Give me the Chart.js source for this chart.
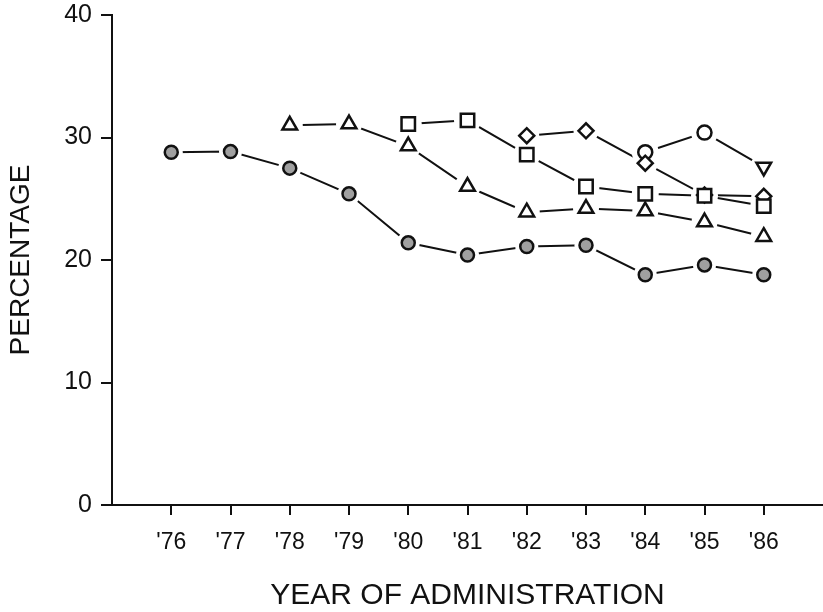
<!DOCTYPE html>
<html>
<head>
<meta charset="utf-8">
<script src="https://cdn.jsdelivr.net/npm/chart.js@4.4.0/dist/chart.umd.min.js"></script>
<style>
    body { margin: 0; background: #fff; }
    #wrap { width: 823px; height: 612px; position: relative; }
</style>
</head>
<body>
<div id="wrap"><canvas id="line-chart"></canvas></div>
<script>
// Years of administration ('76 .. '86)
const years = [76, 77, 78, 79, 80, 81, 82, 83, 84, 85, 86];

// Percentages, one array per cohort (null = not yet administered)
const filledCircle = [28.8, 28.85, 27.5, 25.4, 21.4, 20.4, 21.1, 21.2, 18.8, 19.6, 18.8];
const triangleUp = [null, null, 31.0, 31.1, 29.3, 26.0, 23.9, 24.2, 24.0, 23.1, 21.9];
const square = [null, null, null, null, 31.1, 31.4, 28.6, 26.0, 25.4, 25.25, 24.4];
const diamond = [null, null, null, null, null, null, 30.15, 30.55, 27.9, 25.3, 25.2];
const openCircle = [null, null, null, null, null, null, null, null, 28.8, 30.4, 27.6];

const yTicks = [0, 10, 20, 30, 40];

const fontFamily = "'Liberation Sans', Arial, sans-serif";
const ink = '#111';

function toPoints(values) {
    return years.map((yr, i) => ({ x: yr, y: values[i] }));
}

// last point of the open-circle cohort is drawn as an inverted triangle
const openStyles = years.map((yr, i) => i === years.length - 1 ? 'triangle' : 'circle');
const openRotation = years.map((yr, i) => i === years.length - 1 ? 180 : 0);
const openRadius = years.map((yr, i) => i === years.length - 1 ? 8.5 : 7);

// each series is drawn in three layers: the line, a white halo, then the marker
const series = [
    { values: openCircle, style: openStyles, rotation: openRotation, radius: openRadius, halo: 8.5, fill: '#fff', z: 14 },
    { values: diamond, style: 'rectRot', radius: 7.5, halo: 7.5, fill: '#fff', z: 13 },
    { values: square, style: 'rect', radius: 9.5, halo: 8.5, fill: '#fff', z: 10 },
    { values: triangleUp, style: 'triangle', radius: 8.5, halo: 8, fill: '#fff', z: 11 },
    { values: filledCircle, style: 'circle', radius: 6.5, halo: 6.5, fill: '#a0a0a0', z: 12 }
];

const datasets = [];
series.forEach(s => {
    datasets.push({
        data: toPoints(s.values),
        borderColor: ink,
        borderWidth: 2,
        pointRadius: 0,
        order: 40
    });
    datasets.push({
        data: toPoints(s.values),
        showLine: false,
        pointStyle: 'circle',
        pointRadius: s.halo + 5,
        pointBackgroundColor: '#fff',
        pointBorderWidth: 0,
        pointBorderColor: '#fff',
        order: 30
    });
    datasets.push({
        data: toPoints(s.values),
        showLine: false,
        pointStyle: s.style,
        pointRotation: s.rotation || 0,
        pointRadius: s.radius,
        pointBackgroundColor: s.fill,
        pointBorderColor: ink,
        pointBorderWidth: 2.5,
        order: s.z
    });
});

const chart = new Chart(document.getElementById('line-chart'), {
    type: 'line',
    data: { datasets: datasets },
    options: {
        responsive: true,
        maintainAspectRatio: false,
        animation: false,
        layout: { autoPadding: false, padding: { top: 15, right: 0, left: 0, bottom: 0 } },
        plugins: {
            legend: { display: false },
            tooltip: { enabled: false }
        },
        scales: {
            x: {
                type: 'linear',
                min: 75,
                max: 87,
                afterBuildTicks: scale => {
                    scale.ticks = years.map(v => ({ value: v }));
                },
                afterFit: scale => {
                    scale.height = 107;
                    scale.paddingLeft = 0;
                    scale.paddingRight = 0;
                },
                ticks: {
                    color: ink,
                    padding: 14,
                    font: { family: fontFamily, size: 23 },
                    callback: v => "'" + v
                },
                grid: {
                    drawOnChartArea: false,
                    drawTicks: true,
                    tickLength: 10,
                    color: ink,
                    lineWidth: 2
                },
                border: { display: true, color: ink, width: 2 },
                title: {
                    display: true,
                    text: 'YEAR OF ADMINISTRATION',
                    color: ink,
                    font: { family: fontFamily, size: 30, lineHeight: 1 },
                    padding: { top: 0, bottom: 1 }
                }
            },
            y: {
                min: 0,
                max: 40,
                afterBuildTicks: scale => {
                    scale.ticks = yTicks.map(v => ({ value: v }));
                },
                afterFit: scale => {
                    scale.width = 112;
                    scale.paddingTop = 0;
                    scale.paddingBottom = 0;
                },
                ticks: {
                    color: ink,
                    padding: 9,
                    font: { family: fontFamily, size: 25 }
                },
                grid: {
                    drawOnChartArea: false,
                    drawTicks: true,
                    tickLength: 11,
                    color: ink,
                    lineWidth: 2
                },
                border: { display: true, color: ink, width: 2 },
                title: {
                    display: true,
                    text: 'PERCENTAGE',
                    color: ink,
                    font: { family: fontFamily, size: 28, lineHeight: 1 },
                    padding: { top: 7, bottom: 0 }
                }
            }
        }
    }
});
</script>
</body>
</html>
